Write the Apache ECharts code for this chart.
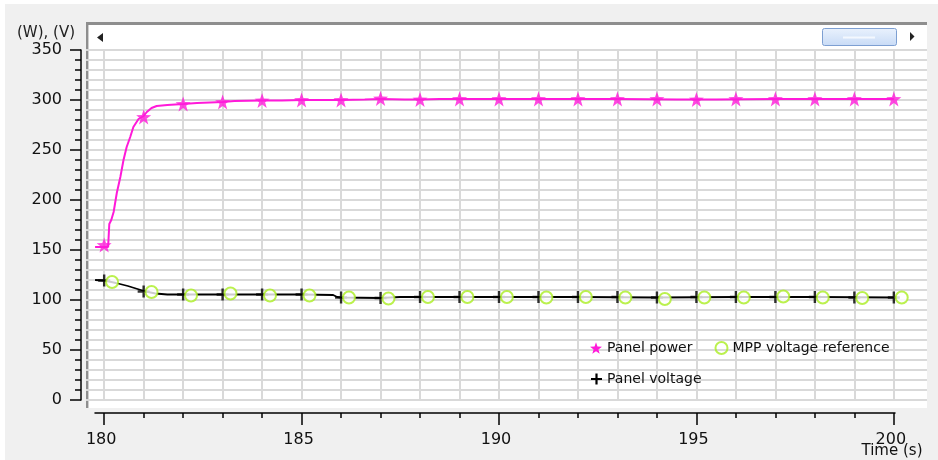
<!DOCTYPE html>
<html>
<head>
<meta charset="utf-8">
<script src="https://cdn.jsdelivr.net/npm/echarts@6/dist/echarts.min.js"></script>
<style>html,body{margin:0;padding:0;background:#f0f0f0;}#chart{width:938px;height:460px;}</style>
</head>
<body>
<div id="chart"></div>
<script>
// ---- data ----
const xMajorTicks = [180, 185, 190, 195, 200];
const xMinorTicks = [180,181,182,183,184,185,186,187,188,189,190,191,192,193,194,195,196,197,198,199,200];

// Panel power trace (W)
const powerT = [179.77, 180.1, 180.12, 180.13, 180.16, 180.18, 180.24, 180.32, 180.41, 180.49, 180.57, 180.66, 180.74, 180.87, 181.0, 181.08, 181.2, 181.33, 181.6, 182.0, 182.35, 183.0, 183.3, 184.0, 184.5, 185.0, 186.0, 186.6, 187.0, 187.6, 188.0, 188.5, 189.0, 190.0, 191.5, 193.0, 194.5, 195.5, 197.0, 198.5, 200.0];
const powerV = [153, 153, 153, 176, 176, 180, 188, 207, 223, 240, 253, 263, 273, 281, 284, 288, 292, 294, 295, 296, 297, 298, 299, 299.5, 299.5, 300, 300, 300.5, 301, 300.5, 300.5, 301, 301, 301, 301, 301, 300.5, 300.5, 301, 301, 301];
// Panel power markers
const powerMarkT = [180,181,182,183,184,185,186,187,188,189,190,191,192,193,194,195,196,197,198,199,200];
const powerMarkV = [155, 283, 296, 298, 299.5, 300, 300, 301.5, 300.5, 301, 301, 301, 301, 301, 301, 300.5, 301, 301, 301, 301, 301];

// Panel voltage trace (V)
const voltT = [179.77, 180.0, 180.3, 180.6, 181.05, 181.3, 181.6, 182.0, 183.0, 184.0, 185.0, 185.8, 185.9, 186.0, 187.0, 187.5, 188.0, 190.0, 192.0, 194.0, 196.0, 198.0, 200.0];
const voltV = [120, 119.5, 117, 114, 108.5, 106.5, 105.5, 105.5, 105.5, 105.5, 105.5, 105, 103, 102.5, 102, 103, 103, 103, 103, 102.5, 103, 103, 102.5];
// Panel voltage markers
const voltMarkT = [180,181,182,183,184,185,186,187,188,189,190,191,192,193,194,195,196,197,198,199,200];
const voltMarkV = [119.5, 108.5, 105.5, 105.5, 105.5, 105.5, 102.5, 102, 103, 103, 103, 103, 103, 103, 102.5, 103, 103, 103, 103, 102.5, 102.5];

// MPP voltage reference markers
const mppT = [180.2,181.2,182.2,183.2,184.2,185.2,186.2,187.2,188.2,189.2,190.2,191.2,192.2,193.2,194.2,195.2,196.2,197.2,198.2,199.2,200.2];
const mppV = [118, 108, 104.5, 106.5, 104.5, 104.5, 102.5, 101.5, 103, 103, 103, 102.5, 103, 102.5, 101, 102.5, 102.5, 103.5, 102.5, 102, 102.5];

// ---- styling ----
const MAGENTA = '#ff1ad9';
const GREEN = '#aaee22';
const BLACK = '#000000';
const GRIDC = '#d9d9d9';
const FONT = 'DejaVu Sans';
const STAR = 'path://M10,0 L12.351,6.764 L19.511,6.91 L13.804,11.236 L15.878,18.09 L10,14 L4.122,18.09 L6.196,11.236 L0.489,6.91 L7.649,6.764 Z';
const PLUS = 'path://M4,0 L6,0 L6,4 L10,4 L10,6 L6,6 L6,10 L4,10 L4,6 L0,6 L0,4 L4,4 Z';

const zip = (a, b) => a.map((t, i) => [t, b[i]]);

const chart = echarts.init(document.getElementById('chart'), null, {renderer: 'canvas'});
chart.setOption({
  animation: false,
  backgroundColor: '#f0f0f0',
  textStyle: {fontFamily: FONT},
  graphic: [
    {type: 'rect', silent: true, z: -10, shape: {x: 0, y: 0, width: 938, height: 4}, style: {fill: '#ffffff'}},
    {type: 'rect', silent: true, z: -10, shape: {x: 0, y: 0, width: 5, height: 460}, style: {fill: '#ffffff'}},
    {type: 'rect', silent: true, z: -10, shape: {x: 86, y: 23, width: 841, height: 385}, style: {fill: '#ffffff'}},
    {type: 'rect', silent: true, z: -9, shape: {x: 86, y: 22, width: 841, height: 3}, style: {fill: '#8e8e8e'}},
    {type: 'rect', silent: true, z: -9, shape: {x: 86, y: 22, width: 2, height: 386}, style: {fill: '#8e8e8e'}},
    {type: 'rect', silent: true, z: -9, shape: {x: 88, y: 25, width: 1, height: 383}, style: {fill: '#cfcfcf'}},
    {type: 'polygon', silent: true, shape: {points: [[97, 37.5], [103, 33], [103, 42]]}, style: {fill: '#222'}},
    {type: 'polygon', silent: true, shape: {points: [[910, 32], [910, 41], [914.5, 36.5]]}, style: {fill: '#222'}},
    {type: 'rect', silent: true, shape: {x: 822.5, y: 28.5, width: 74, height: 17, r: 2},
      style: {fill: new echarts.graphic.LinearGradient(0, 0, 0, 1, [{offset: 0, color: '#eaf2fd'}, {offset: 1, color: '#c8dbf6'}]), stroke: '#7d9fd2', lineWidth: 1}},
    {type: 'line', silent: true, shape: {x1: 843, y1: 37.5, x2: 875, y2: 37.5}, style: {stroke: '#f4f8fe', lineWidth: 2}}
  ],
  grid: [
    {left: 86, right: 11, top: 50, bottom: 60, containLabel: false, outerBoundsMode: 'none'},
    {left: 86, right: 11, top: 50, bottom: 47, containLabel: false, outerBoundsMode: 'none'},
    {left: 95, right: 43, top: 50, bottom: 47, containLabel: false, outerBoundsMode: 'none'}
  ],
  xAxis: [
    {
      // data axis: vertical grid lines every second
      type: 'value', gridIndex: 0, position: 'bottom', min: 179.54, max: 200.84,
      axisLine: {show: false},
      axisTick: {show: true, customValues: xMinorTicks, length: 1, lineStyle: {color: 'rgba(0,0,0,0)', width: 0}},
      axisLabel: {show: false},
      splitLine: {show: true, lineStyle: {color: GRIDC, width: 2}}
    },
    {
      type: 'value', gridIndex: 1, position: 'bottom', min: 179.54, max: 200.84,
      axisLine: {show: false},
      axisTick: {show: true, customValues: xMinorTicks, length: 5, lineStyle: {color: BLACK, width: 1.5}},
      axisLabel: {show: true, customValues: xMajorTicks, fontSize: 16, margin: 19, color: '#111', fontFamily: FONT, padding: [0, 6, 0, 0]},
      splitLine: {show: false}
    },
    {
      type: 'value', gridIndex: 1, position: 'bottom', min: 179.54, max: 200.84,
      axisLine: {show: false},
      axisTick: {show: true, customValues: xMajorTicks, length: 12, lineStyle: {color: BLACK, width: 1.5}},
      axisLabel: {show: false},
      splitLine: {show: false}
    },
    {
      type: 'value', gridIndex: 2, position: 'bottom', min: 179.77, max: 200.035,
      axisLine: {show: true, lineStyle: {color: BLACK, width: 1.5}},
      axisTick: {show: false}, axisLabel: {show: false}, splitLine: {show: false},
      name: 'Time (s)', nameLocation: 'end', nameGap: -3,
      nameTextStyle: {fontSize: 15, color: '#111', fontFamily: FONT, align: 'center', verticalAlign: 'top', padding: [31, 0, 0, 0]}
    }
  ],
  yAxis: [
    {
      type: 'value', gridIndex: 0, position: 'left', min: 0, max: 350, interval: 50, offset: 5,
      name: '(W), (V)', nameLocation: 'end', nameGap: 9,
      nameTextStyle: {fontSize: 15, color: '#222', fontFamily: FONT, align: 'right', padding: [0, 6, 0, 0]},
      axisLine: {show: true, lineStyle: {color: BLACK, width: 1.5}},
      axisTick: {show: true, length: 11, lineStyle: {color: BLACK, width: 1.5}},
      minorTick: {show: true, splitNumber: 5, length: 6, lineStyle: {color: BLACK, width: 1.5}},
      axisLabel: {fontSize: 16, margin: 19, color: '#111', fontFamily: FONT},
      splitLine: {show: true, lineStyle: {color: GRIDC, width: 2}},
      minorSplitLine: {show: true, lineStyle: {color: GRIDC, width: 2}}
    },
    {type: 'value', gridIndex: 1, min: 0, max: 350, show: false},
    {type: 'value', gridIndex: 2, min: 0, max: 350, show: false}
  ],
  legend: [
    {
      left: 585, top: 336, orient: 'horizontal', itemGap: 22, itemWidth: 12, itemHeight: 12,
      textStyle: {fontSize: 14, color: '#111', fontFamily: FONT},
      data: [
        {name: 'Panel power', icon: STAR, itemStyle: {color: MAGENTA}},
        {name: 'MPP voltage reference', icon: 'circle', itemStyle: {color: 'rgba(0,0,0,0)', borderColor: GREEN, borderWidth: 2}}
      ]
    },
    {
      left: 586, top: 367, orient: 'horizontal', itemWidth: 11, itemHeight: 11,
      textStyle: {fontSize: 14, color: '#111', fontFamily: FONT},
      data: [
        {name: 'Panel voltage', icon: PLUS, itemStyle: {color: BLACK}}
      ]
    }
  ],
  series: [
    {
      name: 'Panel voltage', type: 'line', xAxisIndex: 0, yAxisIndex: 0, z: 2,
      data: zip(voltT, voltV), showSymbol: false, symbol: 'none',
      lineStyle: {color: BLACK, width: 1.8}, itemStyle: {color: BLACK}
    },
    {
      name: 'Panel voltage', type: 'scatter', xAxisIndex: 0, yAxisIndex: 0, z: 3,
      data: zip(voltMarkT, voltMarkV), symbol: PLUS, symbolSize: 12,
      itemStyle: {color: BLACK}
    },
    {
      name: 'MPP voltage reference', type: 'scatter', xAxisIndex: 0, yAxisIndex: 0, z: 4,
      data: zip(mppT, mppV), symbol: 'emptyCircle', symbolSize: 12,
      itemStyle: {color: GREEN, borderColor: GREEN, borderWidth: 2}
    },
    {
      name: 'Panel power', type: 'line', xAxisIndex: 0, yAxisIndex: 0, z: 5,
      data: zip(powerT, powerV), showSymbol: false, symbol: 'none',
      lineStyle: {color: MAGENTA, width: 2}, itemStyle: {color: MAGENTA}
    },
    {
      name: 'Panel power', type: 'scatter', xAxisIndex: 0, yAxisIndex: 0, z: 6,
      data: zip(powerMarkT, powerMarkV), symbol: STAR, symbolSize: 15,
      itemStyle: {color: MAGENTA}
    }
  ]
});
</script>
</body>
</html>
